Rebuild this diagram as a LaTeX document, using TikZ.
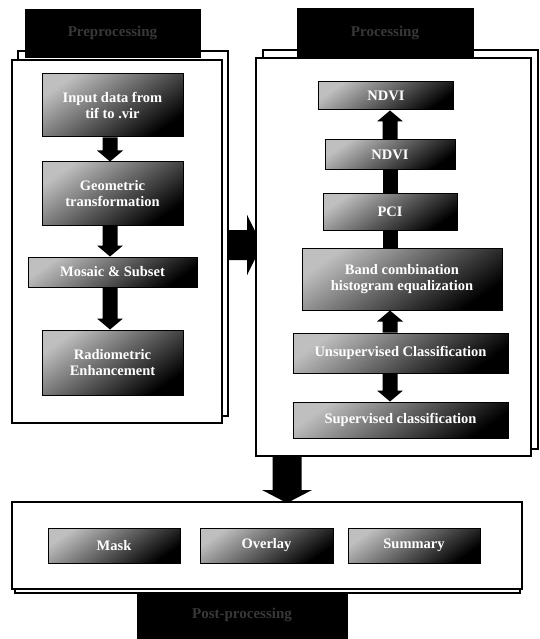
\documentclass[tikz,border=0pt]{standalone}
\usepackage{fontspec}
\setmainfont{Liberation Serif}
\usetikzlibrary{calc}
\tikzset{
  px/.style={x=1pt,y=-1pt},
  panel/.style={draw=black, line width=1.1pt, fill=white},
  tab/.style={fill=black, draw=black, text=white!22!black, font=\bfseries\fontsize{15}{17}\selectfont, inner sep=0pt},
  box/.style={draw=black, line width=1pt, shading=axis, top color=gray!50, bottom color=black, shading angle=35,
     text=white, font=\bfseries\fontsize{14.5}{16}\selectfont, align=center, inner sep=1pt},
  blk/.style={fill=black, draw=none},
}
\newcommand\sha{7.5pt}
\newcommand\hda{13pt}
\newcommand\hdl{11pt}
% bar between #1.south and #2.north at x of #3
\newcommand\barv[3]{\fill[blk] ($(#1.south -| #3)+(-\sha,0)$) rectangle ($(#2.north -| #3)+(\sha,0)$);}
% down arrow, head on #2
\newcommand\downv[3]{\fill[blk] ($(#1.south -| #3)+(-\sha,0)$) -- ($(#2.north -| #3)+(-\sha,\hdl)$) -- ($(#2.north -| #3)+(-\hda,\hdl)$) -- (#2.north -| #3) -- ($(#2.north -| #3)+(\hda,\hdl)$) -- ($(#2.north -| #3)+(\sha,\hdl)$) -- ($(#1.south -| #3)+(\sha,0)$) -- cycle;}
% up arrow, head on #1
\newcommand\upv[3]{\fill[blk] ($(#2.north -| #3)+(-\sha,0)$) -- ($(#1.south -| #3)+(-\sha,-\hdl)$) -- ($(#1.south -| #3)+(-\hda,-\hdl)$) -- (#1.south -| #3) -- ($(#1.south -| #3)+(\hda,-\hdl)$) -- ($(#1.south -| #3)+(\sha,-\hdl)$) -- ($(#2.north -| #3)+(\sha,0)$) -- cycle;}
\begin{document}
\begin{tikzpicture}[px]
\useasboundingbox (0,0) rectangle (540,639);
\fill[white] (0,0) rectangle (540,639);

% big arrow between panels
\coordinate (ra1) at (229,230);
\coordinate (ra2) at (262,245);
\fill[blk] (ra1) -- (247,230) -- (247,215) -- (ra2) -- (247,275) -- (247,260) -- (229,260) -- cycle;

% bottom arrow
\coordinate (da1) at (287,456);
\coordinate (da2) at (287,503);
\fill[blk] ($(da1)+(-14.5pt,0)$) -- ($(da2)+(-14.5pt,13pt)$) -- ($(da2)+(-25pt,13pt)$) -- (da2) -- ($(da2)+(25pt,13pt)$) -- ($(da2)+(14.5pt,13pt)$) -- ($(da1)+(14.5pt,0)$) -- cycle;

% panels
\draw[panel] (18,51) rectangle (228,416);
\draw[panel] (12,60) rectangle (222,423);
\draw[panel] (263,50) rectangle (538,449);
\draw[panel] (256,58) rectangle (531,456);
\draw[panel] (15,505) rectangle (520,593);
\draw[panel] (12,502) rectangle (522,589);

% arrow parts visible over panel borders
\fill[blk] (229,230) rectangle (247,260);
\fill[blk] (247,215) -- (256,239.5) -- (256,250.5) -- (247,275) -- cycle;

% tabs
\node[tab, minimum width=175pt, minimum height=48pt] (tabL) at (112.5,33) {Preprocessing};
\node[tab, minimum width=176pt, minimum height=49pt] (tabR) at (385,32.5) {Processing};
\node[tab, minimum width=210pt, minimum height=46pt] (tabB) at (242,615) {Post-processing};

% left column
\node[box, minimum width=141pt, minimum height=63pt] (l1) at (112.5,105.5) {Input data from\\tif to .vir};
\node[box, minimum width=141pt, minimum height=63pt] (l2) at (112.5,193.5) {Geometric\\transformation};
\node[box, minimum width=169pt, minimum height=30pt] (l3) at (112.5,272) {Mosaic \& Subset};
\node[box, minimum width=141pt, minimum height=65pt] (l4) at (112.5,362.5) {Radiometric\\Enhancement};
\coordinate (colL) at (110,0);
\downv{l1}{l2}{colL}
\downv{l2}{l3}{colL}
\downv{l3}{l4}{colL}

% right column
\node[box, minimum width=135pt, minimum height=28pt] (r1) at (386,96) {NDVI};
\node[box, minimum width=130pt, minimum height=30pt] (r2) at (390,155) {NDVI};
\node[box, minimum width=134pt, minimum height=37pt] (r3) at (390,211.5) {PCI};
\node[box, minimum width=200pt, minimum height=62pt] (r4) at (402,279) {Band combination\\histogram equalization};
\node[box, minimum width=215pt, minimum height=40pt] (r5) at (400.5,353) {Unsupervised Classification};
\node[box, minimum width=215pt, minimum height=36pt] (r6) at (400.5,420) {Supervised classification};
\coordinate (colR) at (390,0);
\upv{r1}{r2}{colR}
\barv{r2}{r3}{colR}
\barv{r3}{r4}{colR}
\upv{r4}{r5}{colR}
\downv{r5}{r6}{colR}

% bottom row
\node[box, minimum width=132pt, minimum height=35pt] (m1) at (114,545.5) {Mask};
\node[box, minimum width=133pt, minimum height=35pt] (m2) at (266.5,545.5) {Overlay};
\node[box, minimum width=132pt, minimum height=35pt] (m3) at (414,545.5) {Summary};
\end{tikzpicture}
\end{document}
